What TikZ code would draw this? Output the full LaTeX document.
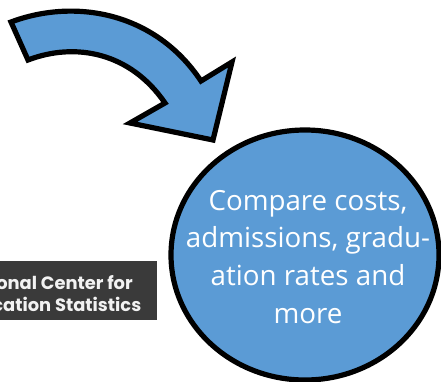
\documentclass[tikz,border=0pt]{standalone}
\usepackage{fontspec}
\usetikzlibrary{shapes.geometric}
\setmainfont{Open Sans}
\newfontfamily\logofont{Poppins}
\definecolor{shapeblue}{HTML}{5B9BD5}
\definecolor{logobg}{HTML}{3A3A3A}
\tikzset{
  blueshape/.style={draw=black,fill=shapeblue,line width=3.9pt,miter limit=10},
  circletext/.style={text=white,font=\fontsize{20.8pt}{28.4pt}\selectfont,align=center,inner sep=0pt},
  logotext/.style={text=white!95!black,font=\logofont\bfseries\fontsize{13.4pt}{15pt}\selectfont,anchor=east,inner sep=0pt}
}
\begin{document}
\begin{tikzpicture}[x=0.75pt,y=-0.75pt]
\path[use as bounding box] (0,0) rectangle (441,381);
\begin{scope}
\clip (0,0) rectangle (441,381);
\fill[logobg] (0,261) rectangle (157,320);
\node[logotext] (logoa) at (133,282) {National Center for};
\node[logotext] (logob) at (141.5,304) {Education Statistics};
\draw[blueshape] (11,22) .. controls (75,-2) and (155,12) .. (201,81)
  -- (232,62) -- (213,140) -- (130,123) -- (165,103)
  .. controls (130,52) and (75,42) .. (28,60) -- cycle;
\node[blueshape,ellipse,inner sep=0pt,outer sep=0pt,minimum width=201pt,minimum height=187.5pt] (c) at (305,255) {};
\node[circletext] (label) at (308,257) {Compare costs,\\admissions, gradu-\\ation rates and\\more};
\end{scope}
\end{tikzpicture}
\end{document}
